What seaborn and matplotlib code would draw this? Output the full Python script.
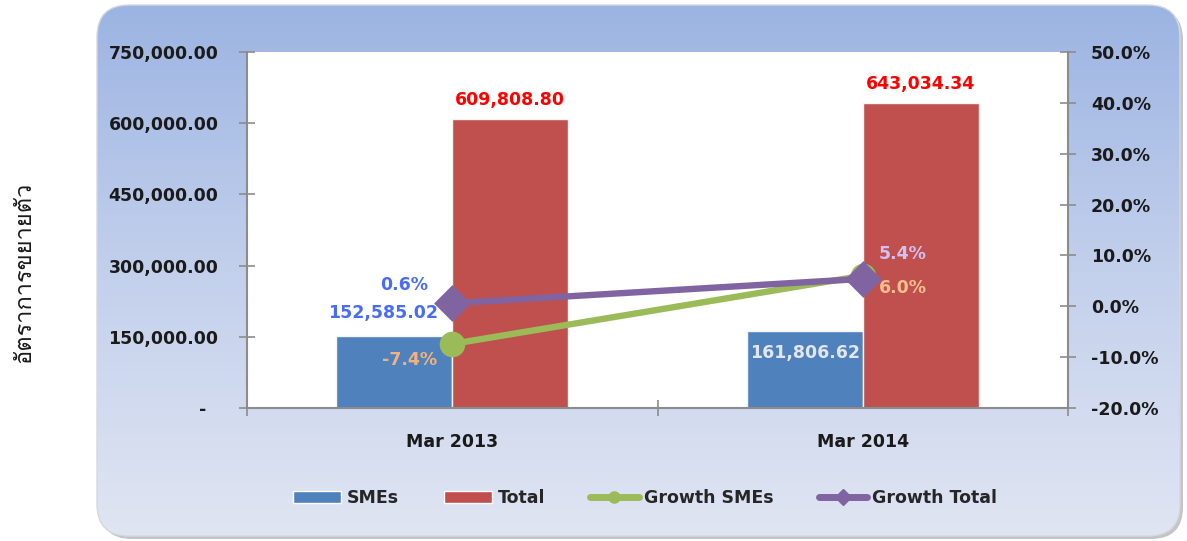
import matplotlib

matplotlib.use("Agg")
import matplotlib.pyplot as plt
import numpy as np
import pandas as pd
import seaborn as sns
from matplotlib import font_manager
from matplotlib.colors import LinearSegmentedColormap
from matplotlib.ft2font import FT2Font
from matplotlib.lines import Line2D
from matplotlib.patches import FancyBboxPatch, Patch
from matplotlib.ticker import FuncFormatter, MultipleLocator

# --- data ---
periods = ["Mar 2013", "Mar 2014"]
smes = [152585.02, 161806.62]
total = [609808.80, 643034.34]
growth_smes = [-7.4, 6.0]
growth_total = [0.6, 5.4]
bar_series = ["SMEs", "Total"]
line_series = ["Growth SMEs", "Growth Total"]
y_label = "อัตราการขยายตัว"

BLUE = "#4F81BD"
RED = "#C0504D"
GREEN = "#9BBB59"
PURPLE = "#8064A2"


def family_with(char):
    """Return the first installed font family that has a glyph for `char`."""
    code = ord(char)
    for entry in font_manager.fontManager.ttflist:
        try:
            if code in FT2Font(entry.fname).get_charmap():
                return entry.name
        except Exception:
            continue
    return None


sns.set_theme(style="white")
plt.rcParams["font.family"] = ["DejaVu Sans", "Noto Sans", "Liberation Sans"]
thai_family = family_with("ก")
thai_families = [thai_family, "DejaVu Sans"] if thai_family else ["DejaVu Sans"]

W, H = 1187, 541
fig = plt.figure(figsize=(W / 100, H / 100), dpi=100)
fig.patch.set_facecolor("white")

# rounded gradient panel behind the chart
bg = fig.add_axes([0, 0, 1, 1], zorder=-10)
bg.set_xlim(0, W)
bg.set_ylim(H, 0)
bg.axis("off")
shadow = FancyBboxPatch((100, 8), 1083, 531, boxstyle="round,pad=0,rounding_size=32",
                        facecolor="#c4c4c4", edgecolor="none", zorder=-1)
bg.add_patch(shadow)
panel = FancyBboxPatch((97, 5), 1083, 531, boxstyle="round,pad=0,rounding_size=32",
                       facecolor="none", edgecolor="#d4d8e0", linewidth=1, zorder=2)
bg.add_patch(panel)
grad_cmap = LinearSegmentedColormap.from_list("panel", ["#9CB4E2", "#C3D0EC", "#E0E5F2"])
im = bg.imshow(np.linspace(0, 1, 256).reshape(-1, 1), cmap=grad_cmap,
               extent=(97, 1180, 536, 5), aspect="auto", zorder=0)
im.set_clip_path(panel)

# main axes (bars, left scale)
ax = fig.add_axes([247 / W, 1 - 408 / H, 821 / W, 356 / H])
ax.set_facecolor("white")

df_bars = pd.DataFrame({
    "period": periods * 2,
    "series": [bar_series[0]] * 2 + [bar_series[1]] * 2,
    "value": smes + total,
})
sns.barplot(data=df_bars, x="period", y="value", hue="series", hue_order=bar_series,
            palette=[BLUE, RED], width=0.565, saturation=1, edgecolor="#f4f4f4",
            linewidth=1, ax=ax, legend=False)

ax.set_ylim(0, 750000)
ax.yaxis.set_major_locator(MultipleLocator(150000))
ax.yaxis.set_major_formatter(FuncFormatter(lambda v, _: "-  " if v == 0 else f"{v:,.2f}"))
ax.set_xticks([-0.5, 0.5, 1.5], minor=False)
ax.set_xticks([0, 1], minor=True)
ax.set_xticklabels(["", "", ""])
ax.set_xticklabels(periods, minor=True)
ax.set_xlim(-0.5, 1.5)
ax.set_xlabel("")
ax.set_ylabel("")

tick_kw = dict(colors="#8c8c8c", labelcolor="#1a1a1a", direction="inout", length=11, width=1.2)
ax.tick_params(axis="y", which="major", left=True, pad=15, labelsize=12.5, **tick_kw)
ax.tick_params(axis="x", which="major", bottom=True, **tick_kw)
ax.tick_params(axis="x", which="minor", bottom=False, pad=14, labelsize=12.5, labelcolor="#1a1a1a")
for lbl in ax.get_yticklabels() + ax.get_xticklabels(minor=True):
    lbl.set_fontweight("bold")
for side in ["left", "bottom"]:
    ax.spines[side].set_color("#8c8c8c")
    ax.spines[side].set_linewidth(1.5)
ax.spines["top"].set_visible(False)
ax.spines["right"].set_visible(False)

# bar value labels
for i, v in enumerate(total):
    ax.annotate(f"{v:,.2f}", (i + 0.1413, v), xytext=(0, 19), textcoords="offset pixels",
                ha="center", va="center", color="#FF0000", fontsize=12.5, fontweight="bold")
ax.annotate(f"{smes[0]:,.2f}", (0 - 0.1413, smes[0]), xytext=(-11, 23), textcoords="offset pixels",
            ha="center", va="center", color="#4A6CF2", fontsize=12.5, fontweight="bold")
ax.annotate(f"{smes[1]:,.2f}", (1 - 0.1413, smes[1]), xytext=(0, -22), textcoords="offset pixels",
            ha="center", va="center", color="#E2E6F0", fontsize=12.5, fontweight="bold")

# growth lines (right scale)
ax2 = ax.twinx()
df_growth = pd.DataFrame({
    "period": periods * 2,
    "series": [line_series[0]] * 2 + [line_series[1]] * 2,
    "growth": growth_smes + growth_total,
})
sns.pointplot(data=df_growth, x="period", y="growth", hue="series", hue_order=line_series,
              palette=[GREEN, PURPLE], markers=["o", "D"], linestyles=["-", "-"],
              errorbar=None, markersize=15, linewidth=4.6, ax=ax2, legend=False)
ax2.set_xlim(-0.5, 1.5)
ax2.set_ylim(-20, 50)
ax2.yaxis.set_major_locator(MultipleLocator(10))
ax2.yaxis.set_major_formatter(FuncFormatter(lambda v, _: f"{v:.1f}%"))
ax2.set_ylabel("")
ax2.set_xlabel("")
ax2.tick_params(axis="y", right=True, pad=11, labelsize=12.5, **tick_kw)
for lbl in ax2.get_yticklabels():
    lbl.set_fontweight("bold")
for side in ["left", "top", "bottom"]:
    ax2.spines[side].set_visible(False)
ax2.spines["right"].set_color("#8c8c8c")
ax2.spines["right"].set_linewidth(1.5)

# growth value labels
ax2.annotate(f"{growth_total[0]:.1f}%", (0, growth_total[0]), xytext=(-48, 18), textcoords="offset pixels",
             ha="center", va="center", color="#4A6CF2", fontsize=12.5, fontweight="bold")
ax2.annotate(f"{growth_smes[0]:.1f}%", (0, growth_smes[0]), xytext=(-43, -16), textcoords="offset pixels",
             ha="center", va="center", color="#F2B27E", fontsize=12.5, fontweight="bold")
ax2.annotate(f"{growth_total[1]:.1f}%", (1, growth_total[1]), xytext=(40, 25), textcoords="offset pixels",
             ha="center", va="center", color="#D2C0F2", fontsize=12.5, fontweight="bold")
ax2.annotate(f"{growth_smes[1]:.1f}%", (1, growth_smes[1]), xytext=(40, -12), textcoords="offset pixels",
             ha="center", va="center", color="#F9BF8C", fontsize=12.5, fontweight="bold")

# legend along the bottom
handles = [
    Patch(facecolor=BLUE, edgecolor="white"),
    Patch(facecolor=RED, edgecolor="white"),
    Line2D([], [], color=GREEN, lw=5, marker="o", markersize=8),
    Line2D([], [], color=PURPLE, lw=5, marker="D", markersize=8),
]
fig.legend(handles, bar_series + line_series, loc="center", bbox_to_anchor=(645 / W, 1 - 498 / H),
           ncol=4, frameon=False, handlelength=2.8, handleheight=0.7, handletextpad=0.3,
           columnspacing=2.6, prop={"weight": "bold", "size": 12.5})

# Thai axis title on the far left
fig.text(24 / W, 1 - 272 / H, y_label, rotation=90, ha="center", va="center",
         fontsize=17, color="#1a1a1a", family=thai_families)

fig.savefig("out.png", dpi=100)
